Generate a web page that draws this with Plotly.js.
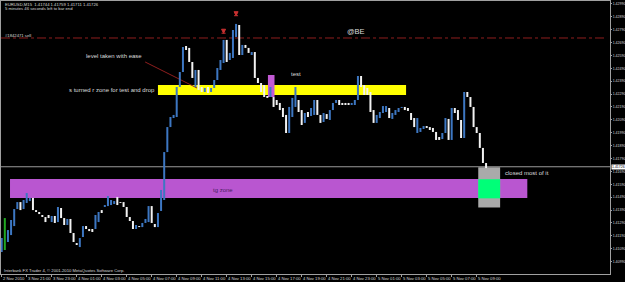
<!DOCTYPE html>
<html><head><meta charset="utf-8">
<script src="https://cdn.plot.ly/plotly-3.0.1.min.js"></script>
<style>html,body{margin:0;padding:0;background:#000;}#chart{width:625px;height:282px;}</style>
</head><body><div id="chart"></div>
<script>
// EURUSD M15 bars (index 0 = first bar on screen)
const barHigh = [
1.41173,1.41328,1.41235,1.41313,1.41398,1.41452,1.41452,1.41468,1.41522,1.41484,
1.41484,1.41390,1.41375,1.41352,1.41336,1.41352,1.41344,1.41344,1.41414,1.41406,
1.41328,1.41321,1.41321,1.41212,1.41134,1.41173,1.41266,1.41266,1.41243,1.41243,
1.41352,1.41375,1.41390,1.41429,1.41499,1.41468,1.41460,1.41491,1.41452,1.41452,
1.41414,1.41336,1.41305,1.41274,1.41266,1.41290,1.41321,1.41421,1.41421,1.41282,
1.41367,1.41546,1.41840,1.42034,1.42112,1.42128,1.42345,1.42461,1.42655,1.42663,
1.42648,1.42539,1.42477,1.42477,1.42345,1.42337,1.42345,1.42337,1.42399,1.42492,
1.42554,1.42710,1.42710,1.42609,1.42787,1.42834,1.42826,1.42671,1.42671,1.42648,
1.42616,1.42616,1.42415,1.42376,1.42360,1.42275,1.42345,1.42267,1.42244,1.42221,
1.42182,1.42128,1.42190,1.42260,1.42345,1.42244,1.42166,1.42143,1.42151,1.42182,
1.42244,1.42244,1.42128,1.42143,1.42135,1.42166,1.42221,1.42244,1.42244,1.42221,
1.42221,1.42221,1.42221,1.42244,1.42430,1.42430,1.42360,1.42337,1.42306,1.42166,
1.42128,1.42151,1.42197,1.42197,1.42182,1.42143,1.42166,1.42182,1.42190,1.42190,
1.42182,1.42143,1.42104,1.42104,1.42027,1.42042,1.42042,1.42034,1.42027,1.41996,
1.41957,1.41988,1.42104,1.42097,1.42182,1.42182,1.42166,1.42089,1.42306,1.42306,
1.42267,1.42190,1.42034,1.41988,1.41872,1.41755];
const barLow = [
1.41064,1.41080,1.41142,1.41196,1.41266,1.41398,1.41390,1.41398,1.41445,1.41460,
1.41390,1.41375,1.41359,1.41336,1.41297,1.41328,1.41297,1.41290,1.41297,1.41328,
1.41274,1.41274,1.41212,1.41142,1.41119,1.41103,1.41181,1.41243,1.41227,1.41220,
1.41243,1.41297,1.41367,1.41414,1.41421,1.41429,1.41437,1.41429,1.41445,1.41414,
1.41336,1.41305,1.41243,1.41243,1.41258,1.41258,1.41290,1.41297,1.41290,1.41258,
1.41258,1.41383,1.41468,1.41840,1.42034,1.42104,1.42112,1.42345,1.42461,1.42632,
1.42539,1.42415,1.42345,1.42322,1.42306,1.42306,1.42298,1.42306,1.42337,1.42399,
1.42477,1.42531,1.42539,1.42554,1.42570,1.42733,1.42593,1.42593,1.42648,1.42609,
1.42593,1.42415,1.42376,1.42306,1.42267,1.42260,1.42267,1.42190,1.42205,1.42166,
1.42112,1.41988,1.41988,1.42112,1.42190,1.42151,1.42050,1.42066,1.42112,1.42120,
1.42128,1.42128,1.42066,1.42073,1.42097,1.42089,1.42166,1.42221,1.42205,1.42205,
1.42205,1.42205,1.42205,1.42205,1.42244,1.42345,1.42283,1.42283,1.42151,1.42066,
1.42066,1.42104,1.42143,1.42151,1.42104,1.42097,1.42128,1.42151,1.42182,1.42166,
1.42159,1.42089,1.42034,1.41988,1.41996,1.42019,1.42027,1.42011,1.41996,1.41934,
1.41934,1.41941,1.41988,1.41934,1.41934,1.42143,1.42089,1.41949,1.41949,1.42267,
1.42190,1.42034,1.41988,1.41872,1.41755,1.41716];
// u = up bar, d = down bar, g = green bar
const barDir = ("uguuuuduuu"+"ddddddudud"+"duddduuddd"+"uuduuuuddd"+"ddduduuudd"+
  "uuuuuuuuud"+"ddudduduuu"+"uuduuududd"+"uddddduddd"+"dduuuddudu"+
  "udduduuudd"+"dduuuddddd"+"uuuuduuuud"+"ddduuudddd"+"duududddud"+"dddddd").split('');
const xTickLabels = ["2 Nov 2010","3 Nov 21:00","3 Nov 23:00","4 Nov 01:00","4 Nov 03:00","4 Nov 05:00",
  "4 Nov 07:00","4 Nov 09:00","4 Nov 11:00","4 Nov 13:00","4 Nov 15:00","4 Nov 17:00","4 Nov 19:00",
  "4 Nov 21:00","4 Nov 23:00","5 Nov 01:00","5 Nov 03:00","5 Nov 05:00","5 Nov 07:00","5 Nov 09:00"];
const barsPerLabel = 8;
const signalX = [71, 75];
const signalY = [1.42762, 1.42898];
const currentPrice = 1.41726;
const sellLevel = 1.42725;
const header = "EURUSD,M15  1.41744 1.41759 1.41711 1.41726";

const idx = barHigh.map((_, i) => i);
const colorOf = {u: '#3d77c2', d: '#f2f2f2', g: '#22a822'};
const bars = {
  type: 'bar', x: idx, base: barLow, y: barHigh.map((h, i) => h - barLow[i]),
  width: 0.64, marker: {color: barDir.map(d => colorOf[d]), line: {width: 0}},
  hoverinfo: 'skip', showlegend: false
};
const arrows = {
  type: 'scatter', mode: 'markers', x: signalX, y: signalY,
  marker: {symbol: 'arrow-bar-down', size: 4, color: '#c83030', line: {color: '#c83030', width: 1}},
  hoverinfo: 'skip', showlegend: false
};

const F = 'Liberation Sans, Arial, sans-serif';
const txt = (text, x, y, xanchor, size, color, extra) => Object.assign({
  text, x, y, xref: 'paper', yref: 'paper', xanchor, yanchor: 'middle', showarrow: false,
  font: {family: F, size, color}
}, extra || {});
// paper coords for plot area 1..610 x 1..274
const PX = X => (X - 1) / 609;
const PY = Y => (274 - Y) / 273;

const tickLabelAnns = xTickLabels.map((t, k) => ({
  text: t, xref: 'x', yref: 'paper', x: k * barsPerLabel + 0.2, y: PY(275.2),
  xanchor: 'left', yanchor: 'top', showarrow: false, borderpad: 0,
  font: {family: F, size: 4.2, color: '#d8d8d8'}
}));

const layout = {
  width: 625, height: 282,
  margin: {l: 1, r: 15, t: 1, b: 8, pad: 0},
  paper_bgcolor: '#000000', plot_bgcolor: '#000000',
  showlegend: false,
  font: {family: F, color: '#d8d8d8'},
  xaxis: {
    range: [-0.224, 194.66], showgrid: false, zeroline: false,
    showline: true, mirror: true, linecolor: '#a0a0a0', linewidth: 1,
    tickmode: 'array', tickvals: xTickLabels.map((_, k) => k * barsPerLabel),
    ticks: 'outside', ticklen: 2, tickcolor: '#a0a0a0', showticklabels: false
  },
  yaxis: {
    side: 'right', range: [1.40894, 1.43012], showgrid: false, zeroline: false,
    showline: true, mirror: true, linecolor: '#a0a0a0', linewidth: 1,
    tick0: 1.4089, dtick: 0.001, tickformat: '.5f',
    ticks: 'outside', ticklen: 1, tickcolor: '#a0a0a0',
    tickfont: {family: F, size: 3.5, color: '#d8d8d8'}
  },
  shapes: [
    {type: 'rect', xref: 'x', yref: 'y', x0: 2.66, x1: 168.2, y0: 1.41484, y1: 1.41631, fillcolor: '#b956d0', line: {width: 0}, layer: 'below'},
    {type: 'rect', xref: 'x', yref: 'y', x0: 50.0, x1: 129.4, y0: 1.42283, y1: 1.42360, fillcolor: '#ffff00', line: {width: 0}, layer: 'below'},
    {type: 'rect', xref: 'x', yref: 'y', x0: 85.2, x1: 87.3, y0: 1.42267, y1: 1.42438, fillcolor: '#c25ad4', line: {width: 0}, layer: 'below'},
    {type: 'rect', xref: 'x', yref: 'y', x0: 152.5, x1: 159.5, y0: 1.41410, y1: 1.41722, fillcolor: '#aaaaaa', line: {width: 0}, layer: 'below'},
    {type: 'rect', xref: 'x', yref: 'y', x0: 152.5, x1: 159.5, y0: 1.41481, y1: 1.41629, fillcolor: '#00ff78', line: {width: 0}, layer: 'below'},
    {type: 'line', xref: 'paper', yref: 'y', x0: 0, x1: 0.995, y0: sellLevel, y1: sellLevel, line: {color: '#8e1e1e', width: 1, dash: 'dashdot'}, layer: 'below'},
    {type: 'line', xref: 'paper', yref: 'y', x0: 0, x1: 1, y0: currentPrice, y1: currentPrice, line: {color: '#9a9a9a', width: 1}, layer: 'below'},
    {type: 'line', xref: 'x', yref: 'y', x0: 45.9, y0: 1.42539, x1: 62.5, y1: 1.42337, line: {color: '#8e1e1e', width: 1}, layer: 'below'}
  ],
  annotations: [
    txt(header, PX(3), PY(4.7), 'left', 4.2, '#d8d8d8'),
    txt('5 minutes 46 seconds left to bar end', PX(3), PY(8.2), 'left', 4.2, '#d8d8d8'),
    txt('#1842471 sell', PX(3), PY(35), 'left', 4.2, '#d8d8d8'),
    txt('level taken with ease', PX(114), PY(56), 'center', 6, '#dcdcdc'),
    txt('s turned r zone for test and drop', PX(157), PY(90), 'right', 6, '#dcdcdc'),
    txt('test', PX(296), PY(74.3), 'center', 6, '#dcdcdc'),
    txt('@BE', PX(355.5), PY(31.5), 'center', 7.5, '#dcdcdc'),
    txt('tg zone', PX(223), PY(190), 'center', 6, '#4a2060'),
    txt('closed most of it', PX(503), PY(173.3), 'left', 6, '#dcdcdc'),
    txt('Interbank FX Trader 4, © 2001-2010 MetaQuotes Software Corp.', PX(2), PY(270.5), 'left', 4.2, '#d8d8d8'),
    {text: currentPrice.toFixed(5), xref: 'paper', yref: 'y', x: 1.002, y: currentPrice, xanchor: 'left', yanchor: 'middle',
     showarrow: false, bgcolor: '#ffffff', borderpad: 0, font: {family: F, size: 3.5, color: '#000000'}}
  ].concat(tickLabelAnns)
};
Plotly.newPlot('chart', [bars, arrows], layout, {displayModeBar: false, staticPlot: true});
</script></body></html>
